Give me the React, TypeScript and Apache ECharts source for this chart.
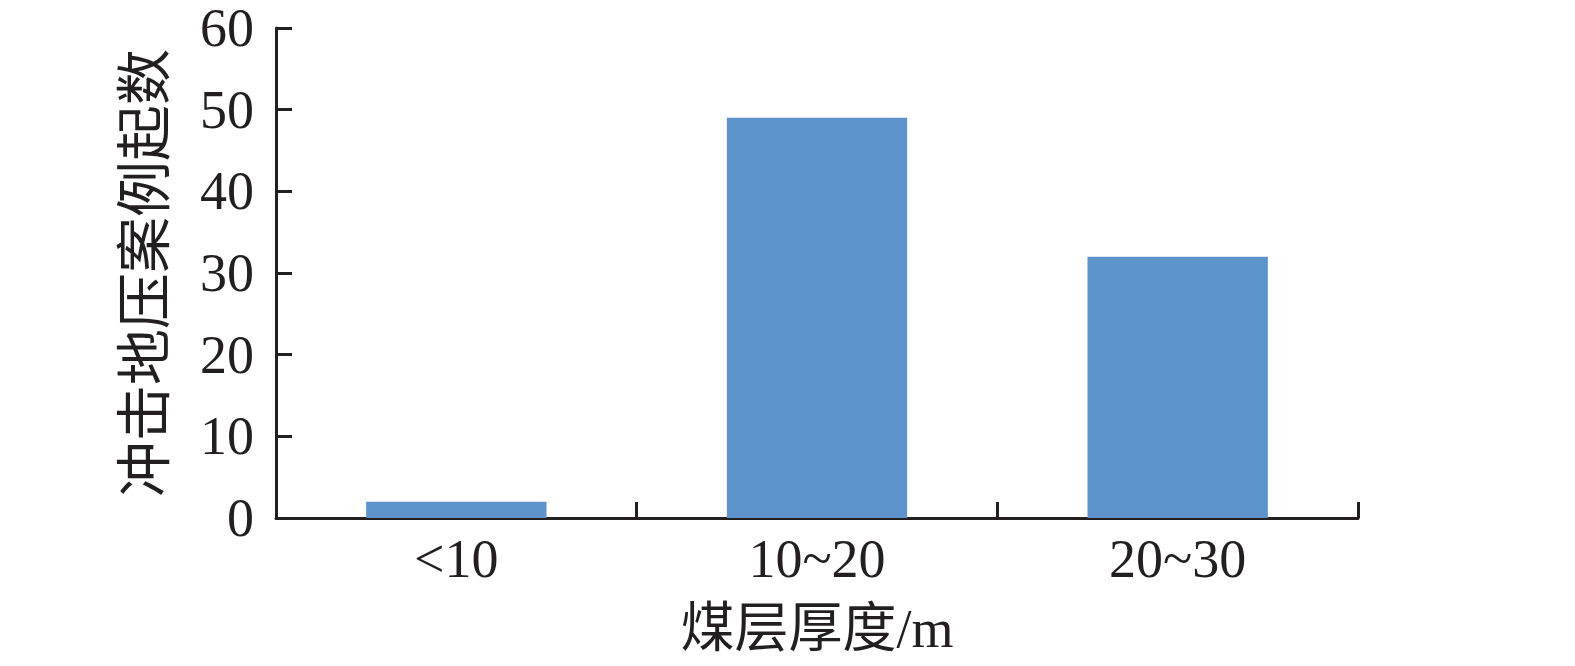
import React, { useEffect, useRef } from "react";
import * as echarts from "echarts";

const categories = ["<10", "10~20", "20~30"];
const counts = [2, 49, 32];
const yTicks = { min: 0, max: 60, interval: 10 };
const xName = "煤层厚度/m";
const yName = "冲击地压案例起数";

const FONT = "'Liberation Serif', 'Times New Roman', 'Noto Sans CJK SC', serif";
const INK = "#231f20";

export default function App() {
  const ref = useRef<HTMLDivElement>(null);
  useEffect(() => {
    document.body.style.margin = "0";
    const chart = echarts.init(ref.current!, null, { renderer: "svg" });
    chart.setOption({
      animation: false,
      backgroundColor: "#ffffff",
      grid: { left: 276, right: 217, top: 28, bottom: 148, containLabel: false },
      xAxis: {
        type: "category",
        data: categories,
        name: xName,
        nameLocation: "middle",
        nameGap: 84,
        nameTextStyle: { fontFamily: FONT, fontSize: 54, color: INK },
        axisLine: { lineStyle: { color: INK, width: 3 } },
        axisTick: { show: true, inside: true, length: 16, lineStyle: { color: INK, width: 3 } },
        axisLabel: { fontFamily: FONT, fontSize: 54, color: INK, margin: 14 },
        splitLine: { show: false },
      },
      yAxis: {
        type: "value",
        min: yTicks.min,
        max: yTicks.max,
        interval: yTicks.interval,
        name: yName,
        nameLocation: "middle",
        nameRotate: 90,
        nameGap: 103,
        nameTextStyle: { fontFamily: FONT, fontSize: 56, color: INK },
        axisLine: { show: true, lineStyle: { color: INK, width: 3 } },
        axisTick: { show: true, inside: true, length: 16, lineStyle: { color: INK, width: 3 } },
        axisLabel: { fontFamily: FONT, fontSize: 54, lineHeight: 40, color: INK, margin: 22 },
        splitLine: { show: false },
      },
      series: [
        {
          type: "bar",
          data: counts,
          barWidth: "50%",
          itemStyle: { color: "#5e92cb" },
        },
      ],
    });
    return () => chart.dispose();
  }, []);
  return <div ref={ref} style={{ width: 1575, height: 666 }} />;
}
